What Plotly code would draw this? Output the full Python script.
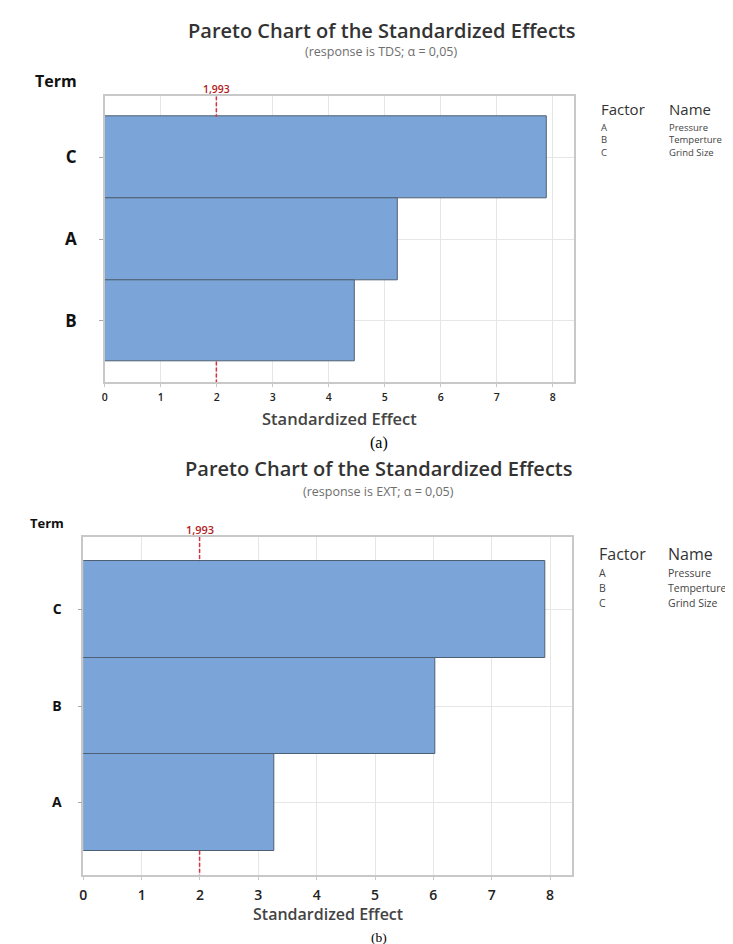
import plotly.graph_objects as go

W, H = 733, 944

# ---- data ----
terms_a = ["C", "A", "B"]
effects_a = [7.90, 5.23, 4.47]
terms_b = ["C", "B", "A"]
effects_b = [7.91, 6.03, 3.27]
critical = 1.993
critical_label = "1,993"
x_ticks = [0, 1, 2, 3, 4, 5, 6, 7, 8]
factor_codes = ["A", "B", "C"]
factor_names = ["Pressure", "Temperture", "Grind Size"]

titles = ["Pareto Chart of the Standardized Effects", "Pareto Chart of the Standardized Effects"]
subtitles = ["(response is TDS; α = 0,05)", "(response is EXT; α = 0,05)"]
captions = ["(a)", "(b)"]


def px(x):
    return x / W


def py(y):
    return 1 - y / H


BAR = "#7BA5D8"
EDGE = "#4F5F73"
GRID = "#E6E6E6"
FRAME = "#C8C8C8"
FONT = "Open Sans"
YRANGE = [2.75, -0.75]

fig = go.Figure()
fig.add_trace(go.Bar(x=effects_a, y=terms_a, orientation="h", width=1,
                     marker=dict(color=BAR, line=dict(color=EDGE, width=1)),
                     xaxis="x", yaxis="y", showlegend=False, hoverinfo="x+y"))
fig.add_trace(go.Bar(x=effects_b, y=terms_b, orientation="h", width=1,
                     marker=dict(color=BAR, line=dict(color=EDGE, width=1)),
                     xaxis="x2", yaxis="y2", showlegend=False, hoverinfo="x+y"))

panels = [
    dict(xd=[px(93.3), px(565)], yd=[py(374), py(88.3)], cats=terms_a,
         ytf=17, xtf=10.5, ystand=19, xstand=2),
    dict(xd=[px(71.7), px(563.3)], yd=[py(867), py(529)], cats=terms_b,
         ytf=14, xtf=14, ystand=13, xstand=3),
]

layout = dict(width=W, height=H, margin=dict(l=0, r=0, t=0, b=0),
              paper_bgcolor="white", plot_bgcolor="white", bargap=0,
              font=dict(family=FONT, color="#222"))
for i, p in enumerate(panels):
    sx = "" if i == 0 else "2"
    layout["xaxis" + sx] = dict(
        domain=p["xd"], anchor="y" + sx, range=[0, 8.38], tickvals=x_ticks,
        showgrid=True, gridcolor=GRID, gridwidth=1, zeroline=False,
        showline=True, linecolor=FRAME, linewidth=1.5, mirror=True,
        ticks="outside", ticklen=3, tickcolor=FRAME,
        tickfont=dict(size=p["xtf"], family=FONT, weight=600, color="#222"),
        ticklabelstandoff=p["xstand"], fixedrange=True)
    layout["yaxis" + sx] = dict(
        domain=p["yd"], anchor="x" + sx, type="category",
        categoryorder="array", categoryarray=p["cats"], range=YRANGE,
        showgrid=True, gridcolor=GRID, gridwidth=1, zeroline=False,
        showline=True, linecolor=FRAME, linewidth=1.5, mirror=True,
        ticks="outside", ticklen=4, tickcolor="#AAAAAA",
        tickfont=dict(size=p["ytf"], family=FONT, weight=700, color="#111"),
        ticklabelstandoff=p["ystand"], fixedrange=True)
fig.update_layout(**layout)

# critical value line: visible only above and below the bars (it sits behind them)
for i in range(2):
    sx = "" if i == 0 else "2"
    for y0, y1 in [(YRANGE[1], -0.5), (2.5, YRANGE[0])]:
        fig.add_shape(type="line", xref="x" + sx, yref="y" + sx,
                      x0=critical, x1=critical, y0=y0, y1=y1, layer="above",
                      line=dict(color="#D8313A", width=1.5, dash="4px,2px"))

ann = []


def text(t, x, y, size, color="#333", weight=400, xanchor="center", family=FONT, xref="paper"):
    ann.append(dict(text=t, x=x, y=py(y), xref=xref, yref="paper", showarrow=False,
                    xanchor=xanchor, yanchor="middle",
                    font=dict(size=size, color=color, family=family, weight=weight)))


# panel (a)
text(titles[0], px(372), 22, 20, "#333", 600)
text(subtitles[0], px(371), 43, 12.5, "#6E6E6E")
text("Term", px(44), 73, 16, "#111", 700)
text(critical_label, critical, 81, 10.5, "#B22222", 600, xref="x")
text("Standardized Effect", px(329), 410, 16.5, "#444", 600)
text(captions[0], px(369), 435, 16, "#000", 400, family="Liberation Serif")
text("Factor", px(590), 101, 15, "#333", 400, "left")
text("Name", px(659), 101, 15, "#333", 400, "left")
for k, (c, n) in enumerate(zip(factor_codes, factor_names)):
    text(c, px(590), 119 + 12.5 * k, 9.5, "#444", 400, "left")
    text(n, px(659), 119 + 12.5 * k, 9.5, "#444", 400, "left")

# panel (b)
text(titles[1], px(369), 460, 20, "#333", 600)
text(subtitles[1], px(369), 483, 12.5, "#6E6E6E")
text("Term", px(35), 515, 13, "#111", 700)
text(critical_label, critical, 521, 11, "#B22222", 600, xref="x2")
text("Standardized Effect", px(317.5), 906, 16, "#444", 600)
text(captions[1], px(369), 929, 13.5, "#000", 400, family="Liberation Serif")
text("Factor", px(588), 546, 16, "#333", 400, "left")
text("Name", px(658), 546, 16, "#333", 400, "left")
for k, (c, n) in enumerate(zip(factor_codes, factor_names)):
    text(c, px(588), 565 + 15 * k, 10.5, "#444", 400, "left")
    text(n, px(658), 565 + 15 * k, 10.5, "#444", 400, "left")

fig.update_layout(annotations=ann)
fig.write_html("out.html")
